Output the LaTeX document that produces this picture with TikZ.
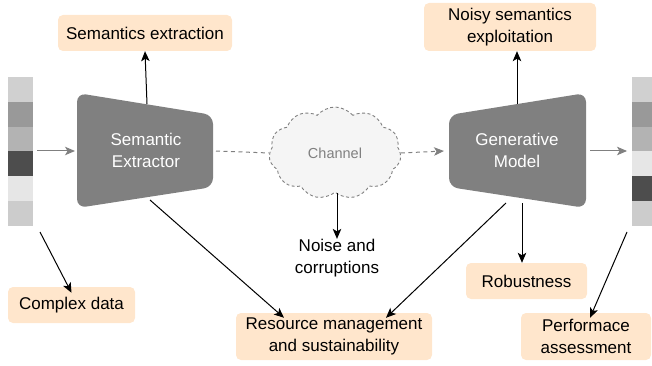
\documentclass[tikz,border=0pt]{standalone}
\usepackage{fontspec}
\setmainfont{Liberation Sans}
\usetikzlibrary{shapes.symbols,arrows.meta}
\definecolor{boxfill}{HTML}{FFE6CC}
\definecolor{blockgray}{HTML}{808080}
\definecolor{linegray}{HTML}{808080}
\tikzset{
  lbl/.style={fill=boxfill,rounded corners=5pt,align=center,font=\fontsize{17}{22}\selectfont,inner sep=0pt},
  plain/.style={align=center,font=\fontsize{17}{22}\selectfont,inner sep=0pt},
  blk/.style={fill=blockgray,rounded corners=9pt},
  blktext/.style={text=white,align=center,font=\fontsize{17}{22}\selectfont},
  tip/.style={-{Stealth[length=10pt,width=8.5pt,inset=2.5pt]}},
  blackarrow/.style={draw=black,line width=1pt,tip},
  grayarrow/.style={draw=linegray,line width=1pt,tip},
  dasharrow/.style={draw=linegray,line width=1pt,dash pattern=on 4pt off 3.5pt},
}
\begin{document}
\begin{tikzpicture}[x=1pt,y=-1pt]
\useasboundingbox (0,0) rectangle (652,366);
% left stripe
\foreach \i/\c in {0/D0D0D0,1/999999,2/B3B3B3,3/4D4D4D,4/E6E6E6,5/CCCCCC}{
  \definecolor{tmp}{HTML}{\c}
  \fill[tmp] (8,77+24.8*\i) rectangle (33,77+24.8*\i+24.8);
}
\foreach \i/\c in {0/D0D0D0,1/999999,2/B3B3B3,3/E6E6E6,4/4D4D4D,5/CCCCCC}{
  \definecolor{tmp}{HTML}{\c}
  \fill[tmp] (632,77+24.8*\i) rectangle (652,77+24.8*\i+24.8);
}
\coordinate (lsin) at (37,151);
\coordinate (lsbot) at (40,232);
\coordinate (rsin) at (627,151);
\coordinate (rsbot) at (627,232);

% semantic extractor
\fill[blk] (77,93) -- (213,115) -- (213,187) -- (77,208) -- cycle;
\node[blktext] (ext) at (146,150) {Semantic\\Extractor};
\coordinate (extL) at (75,151);
\coordinate (extR) at (216,151);
\coordinate (extT) at (147,104);
\coordinate (extB) at (150,200);

% generative model
\fill[blk] (449,115) -- (586,93) -- (586,208) -- (449,187) -- cycle;
\node[blktext] (gen) at (517,150) {Generative\\Model};
\coordinate (genL) at (444,151);
\coordinate (genR) at (590,151);
\coordinate (genT) at (517,104);
\coordinate (genB1) at (506,203);
\coordinate (genB2) at (522,203);

% channel cloud
\node[cloud,cloud puffs=11,cloud puff arc=100,aspect=1.5,draw=linegray,dash pattern=on 3pt off 2.5pt,line width=0.9pt,fill=black!4,minimum width=132pt,minimum height=92pt,text=linegray,font=\fontsize{14.5}{17}\selectfont,inner sep=0pt] (ch) at (335,153) {Channel};

% labels
\node[lbl,minimum width=174pt,minimum height=36pt] (se) at (145,33) {Semantics extraction};
\node[lbl,minimum width=172pt,minimum height=48pt] (nse) at (510,27) {Noisy semantics\\exploitation};
\node[lbl,minimum width=127pt,minimum height=36pt] (cd) at (71.5,305) {Complex data};
\node[lbl,minimum width=196pt,minimum height=47pt] (rm) at (334,336.5) {Resource management\\and sustainability};
\node[lbl,minimum width=121pt,minimum height=36pt] (rob) at (526.5,281) {Robustness};
\node[lbl,minimum width=130pt,minimum height=47pt] (pa) at (586,336.5) {Performace\\assessment};
\node[plain] (noise) at (337,258) {Noise and\\corruptions};

% connectors
\draw[grayarrow] (lsin) -- (extL);
\draw[grayarrow] (genR) -- (rsin);
\draw[dasharrow] (extR) -- (ch.west);
\draw[dasharrow,tip] (ch.east) -- (genL);
\draw[blackarrow] (extT) -- (se.south);
\draw[blackarrow] (genT) -- (nse.south -| genT);
\draw[blackarrow] (ch.south -| noise) -- (noise.north);
\draw[blackarrow] (lsbot) -- ([xshift=0pt,yshift=-6pt]cd.north);
\draw[blackarrow] (extB) -- ([xshift=-50pt,yshift=-5pt]rm.north);
\draw[blackarrow] (genB1) -- ([xshift=52pt,yshift=-5pt]rm.north);
\draw[blackarrow] (genB2) -- (rob.north -| genB2);
\draw[blackarrow] (rsbot) -- ([xshift=4pt,yshift=-5pt]pa.north);
\end{tikzpicture}
\end{document}
